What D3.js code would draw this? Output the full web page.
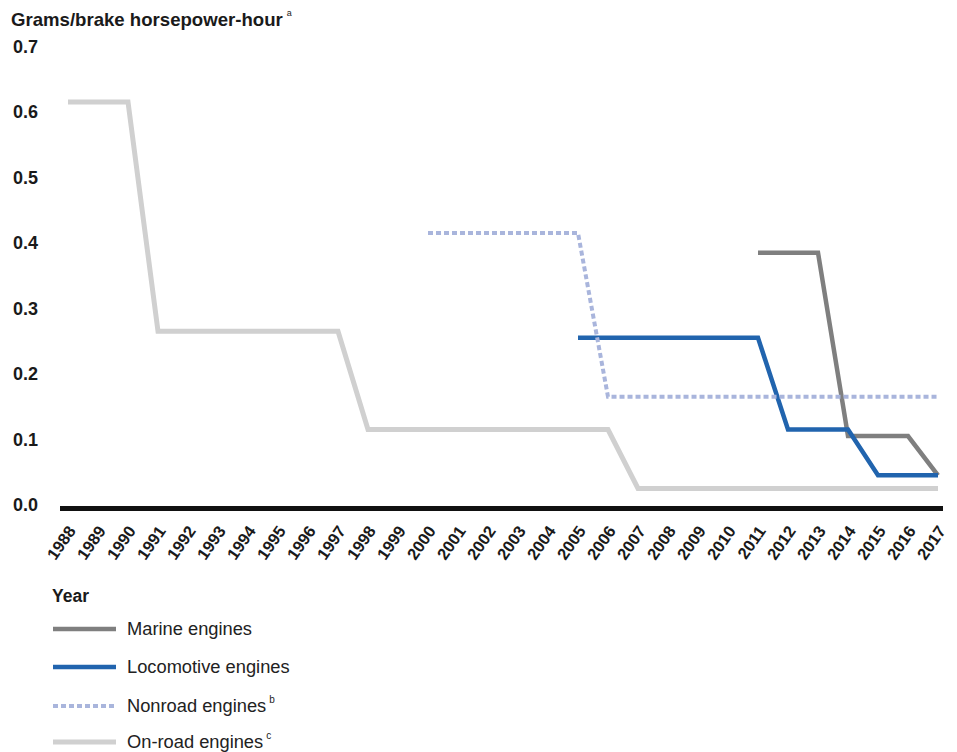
<!DOCTYPE html>
<html>
<head>
<meta charset="utf-8">
<script src="https://cdn.jsdelivr.net/npm/d3@7"></script>
<style>
body { margin: 0; background: #fff; }
text { font-family: Arial, "Liberation Sans", sans-serif; }
</style>
</head>
<body>
<script>
var years = [1988, 1989, 1990, 1991, 1992, 1993, 1994, 1995, 1996, 1997, 1998, 1999, 2000, 2001, 2002,
	2003, 2004, 2005, 2006, 2007, 2008, 2009, 2010, 2011, 2012, 2013, 2014, 2015, 2016, 2017];

var onroad = [0.6, 0.6, 0.6, 0.25, 0.25, 0.25, 0.25, 0.25, 0.25, 0.25, 0.1, 0.1, 0.1, 0.1, 0.1,
	0.1, 0.1, 0.1, 0.1, 0.01, 0.01, 0.01, 0.01, 0.01, 0.01, 0.01, 0.01, 0.01, 0.01, 0.01];
var nonroad = [null, null, null, null, null, null, null, null, null, null, null, null, 0.4, 0.4, 0.4,
	0.4, 0.4, 0.4, 0.15, 0.15, 0.15, 0.15, 0.15, 0.15, 0.15, 0.15, 0.15, 0.15, 0.15, 0.15];
var locomotive = [null, null, null, null, null, null, null, null, null, null, null, null, null, null, null,
	null, null, 0.24, 0.24, 0.24, 0.24, 0.24, 0.24, 0.24, 0.1, 0.1, 0.1, 0.03, 0.03, 0.03];
var marine = [null, null, null, null, null, null, null, null, null, null, null, null, null, null, null,
	null, null, null, null, null, null, null, null, 0.37, 0.37, 0.37, 0.09, 0.09, 0.09, 0.03];

var yTicks = [0, 0.1, 0.2, 0.3, 0.4, 0.5, 0.6, 0.7];

var w = 957;
var h = 752;

var svg = d3.select("body")
	.append("svg")
	.attr("width", w)
	.attr("height", h);

var x = d3.scaleLinear().domain([1988, 2017]).range([68, 938]);
var y = d3.scaleLinear().domain([0, 0.7]).range([495, 36.5]);

// title
var title = svg.append("text")
	.attr("x", 11)
	.attr("y", 25.5)
	.attr("font-size", "18.6px")
	.attr("font-weight", "bold")
	.attr("fill", "#1a1a1a");
title.append("tspan").text("Grams/brake horsepower-hour");
title.append("tspan")
	.attr("dx", 4)
	.attr("dy", -10)
	.attr("font-size", "9px")
	.attr("font-weight", "normal")
	.text("a");

// y axis labels (sit a bit below the value they mark, as in the original)
var yAxis = svg.append("g")
	.attr("transform", "translate(38,10)")
	.call(d3.axisLeft(y).tickValues(yTicks).tickFormat(d3.format(".1f")).tickSize(0).tickPadding(0));
yAxis.select(".domain").remove();
yAxis.selectAll("text")
	.attr("font-size", "18px")
	.attr("font-weight", "bold")
	.attr("font-family", "Arial, 'Liberation Sans', sans-serif")
	.attr("fill", "#1a1a1a");

// x axis labels
var xAxis = svg.append("g")
	.attr("transform", "translate(0,531)")
	.call(d3.axisBottom(x).tickValues(years).tickFormat(d3.format("d")).tickSize(0));
xAxis.select(".domain").remove();
xAxis.selectAll("text")
	.attr("x", 0)
	.attr("y", 0)
	.attr("dy", 0)
	.attr("text-anchor", "end")
	.attr("transform", "translate(8,0) rotate(-55)")
	.attr("font-size", "16.5px")
	.attr("font-weight", "bold")
	.attr("font-family", "Arial, 'Liberation Sans', sans-serif")
	.attr("fill", "#1a1a1a");

// zero line
svg.append("line")
	.attr("x1", 60)
	.attr("x2", 943)
	.attr("y1", 508.5)
	.attr("y2", 508.5)
	.attr("stroke", "#111")
	.attr("stroke-width", 5);

var line = d3.line()
	.defined(function(d) { return d[1] != null; })
	.x(function(d) { return x(d[0]); })
	.y(function(d) { return y(d[1]); });

var series = [
	{ name: "On-road engines", sup: "c", values: onroad, color: "#d0d0d0", width: 5, dash: null },
	{ name: "Marine engines", sup: "", values: marine, color: "#7f7f7f", width: 4.5, dash: null },
	{ name: "Locomotive engines", sup: "", values: locomotive, color: "#2164ae", width: 4.5, dash: null },
	{ name: "Nonroad engines", sup: "b", values: nonroad, color: "#a9b5dc", width: 4, dash: "5,3" }
];

svg.selectAll("path.series")
	.data(series)
	.enter()
	.append("path")
	.attr("class", "series")
	.attr("d", function(s) {
		return line(years.map(function(yr, i) { return [yr, s.values[i]]; }));
	})
	.attr("fill", "none")
	.attr("stroke", function(s) { return s.color; })
	.attr("stroke-width", function(s) { return s.width; })
	.attr("stroke-dasharray", function(s) { return s.dash; })
	.attr("stroke-linejoin", "miter");

// legend
svg.append("text")
	.attr("x", 52)
	.attr("y", 602)
	.attr("font-size", "17.5px")
	.attr("font-weight", "bold")
	.attr("fill", "#1a1a1a")
	.text("Year");

var legendOrder = [series[1], series[2], series[3], series[0]];
var legendY = [629, 667, 706, 742];

var items = svg.selectAll("g.legend")
	.data(legendOrder)
	.enter()
	.append("g")
	.attr("class", "legend")
	.attr("transform", function(d, i) { return "translate(0," + legendY[i] + ")"; });

items.append("line")
	.attr("x1", 53)
	.attr("x2", 116)
	.attr("y1", 0)
	.attr("y2", 0)
	.attr("stroke", function(d) { return d.color; })
	.attr("stroke-width", function(d) { return d.width; })
	.attr("stroke-dasharray", function(d) { return d.dash; });

var labels = items.append("text")
	.attr("x", 127)
	.attr("y", 6)
	.attr("font-size", "18.3px")
	.attr("fill", "#222");
labels.append("tspan").text(function(d) { return d.name; });
labels.append("tspan")
	.attr("dx", 3)
	.attr("dy", -9)
	.attr("font-size", "10px")
	.text(function(d) { return d.sup; });
</script>
</body>
</html>
